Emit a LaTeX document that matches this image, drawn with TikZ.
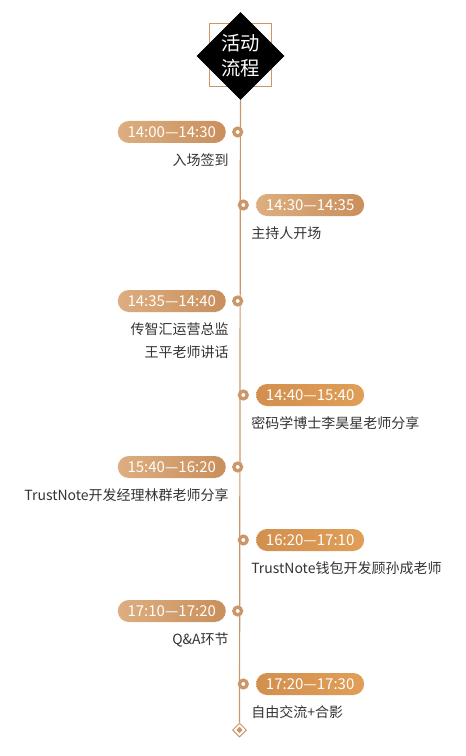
\documentclass[tikz,border=0pt]{standalone}
\usepackage{fontspec}
\setmainfont{Noto Sans CJK SC}
\usetikzlibrary{shapes.geometric,shapes.misc,positioning}
\definecolor{tan}{HTML}{CB9668}
\definecolor{pillA}{HTML}{DDAE80}
\definecolor{pillB}{HTML}{C98F5C}
\definecolor{pillC}{HTML}{D28F4E}
\definecolor{pillD}{HTML}{E09F58}
\definecolor{ink}{HTML}{333333}
\tikzset{
  timedot/.style={circle,draw=tan,line width=2.5pt,fill=white,minimum size=5.8pt,inner sep=0pt},
  pill/.style={rounded rectangle,minimum width=81pt,minimum height=16.5pt,inner sep=0pt,
    text=white,font=\fontsize{11.25}{13}\selectfont},
  lightpill/.style={pill,left color=pillA,right color=pillB},
  orangepill/.style={pill,left color=pillC,right color=pillD},
  item/.style={text=ink,inner sep=0pt,font=\fontsize{10.5}{17.25}\selectfont},
}
\begin{document}
\begin{tikzpicture}[x=0.75pt,y=-0.75pt]
  \useasboundingbox (0,0) rectangle (466,756);
  \node[draw=tan,line width=0.75pt,minimum size=47pt,inner sep=0pt] (frame) at (240.5,55) {};
  \node[diamond,fill=black,minimum size=66pt,inner sep=0pt,text=white,align=center,
      font=\fontsize{14.5}{19}\selectfont] (title) at (240.5,56) {活动\\流程};
  \node[diamond,draw=tan,fill=white,line width=0.75pt,minimum size=10.5pt,inner sep=0pt] (end) at (239.5,730) {};
  \node[diamond,fill=tan,minimum size=5pt,inner sep=0pt] (endc) at (end) {};
  \draw[tan,line width=0.9pt] (title) -- (end);
  % left side
  \foreach \i/\y/\t/\s in {1/132/14:00—14:30/入场签到,
      3/301/14:35—14:40/{传智汇运营总监\\王平老师讲话},
      5/467/15:40—16:20/TrustNote开发经理林群老师分享,
      7/611/17:10—17:20/Q\&A环节}{
    \node[timedot] (dot\i) at (237.7,\y) {};
    \node[lightpill,left=4.6pt of dot\i] (pill\i) {\t};
    \node[item,anchor=north east,align=right] (txt\i) at (229,\y+21.5) {\s};
  }
  % right side
  \foreach \i/\y/\t/\s/\c in {2/205/14:30—14:35/主持人开场/lightpill,
      4/395/14:40—15:40/密码学博士李昊星老师分享/orangepill,
      6/540/16:20—17:10/TrustNote钱包开发顾孙成老师/orangepill,
      8/684/17:20—17:30/自由交流+合影/orangepill}{
    \node[timedot] (dot\i) at (243.3,\y) {};
    \node[\c,right=5.3pt of dot\i] (pill\i) {\t};
    \node[item,anchor=north west,align=left] (txt\i) at (251,\y+21.5) {\s};
  }
\end{tikzpicture}
\end{document}
